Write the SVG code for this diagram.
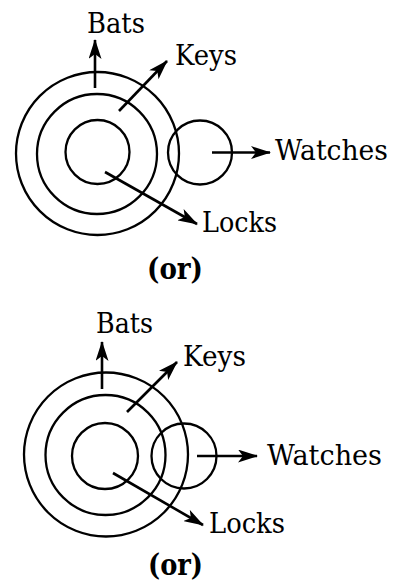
<svg xmlns="http://www.w3.org/2000/svg" width="396" height="582" viewBox="0 0 396 582">
  <style>
    .ring { fill: none; stroke: #000; stroke-width: 2.3; }
    .link { fill: none; stroke: #000; stroke-width: 2.6; marker-end: url(#head); }
    .lbl { font-family: "DejaVu Serif", "Liberation Serif", serif; font-size: 27.5px; fill: #000; }
    .sep { font-family: "DejaVu Serif", "Liberation Serif", serif; font-size: 30px; font-weight: bold; fill: #000; }
  </style>
  <defs>
    <marker id="head" viewBox="0 0 20 13" refX="19" refY="6.5" markerWidth="20" markerHeight="13" markerUnits="userSpaceOnUse" orient="auto">
      <path d="M0,0 L20,6.5 L0,13 L5,6.5 Z" fill="#000"/>
    </marker>
  </defs>

  <!-- first arrangement: Watches touches only the outer ring -->
  <g id="set-a">
    <g id="a-bats"><circle class="ring" cx="97.5" cy="153.5" r="81.5"/><text class="lbl" x="87" y="33" textLength="58" lengthAdjust="spacingAndGlyphs">Bats</text></g>
    <g id="a-keys"><circle class="ring" cx="97" cy="154" r="60"/><text class="lbl" x="175" y="65" textLength="62" lengthAdjust="spacingAndGlyphs">Keys</text></g>
    <g id="a-locks"><circle class="ring" cx="97.5" cy="152" r="32"/><text class="lbl" x="202" y="232" textLength="75" lengthAdjust="spacingAndGlyphs">Locks</text></g>
    <g id="a-watches"><circle class="ring" cx="200" cy="152.5" r="32"/><text class="lbl" x="275" y="160" textLength="113" lengthAdjust="spacingAndGlyphs">Watches</text></g>
    <g id="a-links">
      <line class="link" x1="95" y1="88" x2="95" y2="40"/>
      <line class="link" x1="119" y1="111" x2="167" y2="61"/>
      <line class="link" x1="105" y1="172" x2="197" y2="224"/>
      <line class="link" x1="212" y1="152.5" x2="270" y2="152.5"/>
    </g>
    <text class="sep" x="147" y="279" textLength="56" lengthAdjust="spacingAndGlyphs">(or)</text>
  </g>

  <!-- second arrangement: Watches overlaps the outer and middle rings -->
  <g id="set-b">
    <g id="b-bats"><circle class="ring" cx="106" cy="454.5" r="82"/><text class="lbl" x="96" y="333" textLength="57" lengthAdjust="spacingAndGlyphs">Bats</text></g>
    <g id="b-keys"><circle class="ring" cx="105.5" cy="455" r="60"/><text class="lbl" x="183" y="366" textLength="63" lengthAdjust="spacingAndGlyphs">Keys</text></g>
    <g id="b-locks"><circle class="ring" cx="105" cy="456" r="33"/><text class="lbl" x="209" y="533" textLength="76" lengthAdjust="spacingAndGlyphs">Locks</text></g>
    <g id="b-watches"><circle class="ring" cx="184" cy="456" r="32.5"/><text class="lbl" x="267" y="465" textLength="115" lengthAdjust="spacingAndGlyphs">Watches</text></g>
    <g id="b-links">
      <line class="link" x1="102" y1="389" x2="102" y2="342"/>
      <line class="link" x1="127" y1="412" x2="177" y2="362"/>
      <line class="link" x1="113" y1="473" x2="203" y2="525"/>
      <line class="link" x1="197" y1="456" x2="257" y2="456"/>
    </g>
    <text class="sep" x="148" y="575" textLength="55" lengthAdjust="spacingAndGlyphs">(or)</text>
  </g>
</svg>
